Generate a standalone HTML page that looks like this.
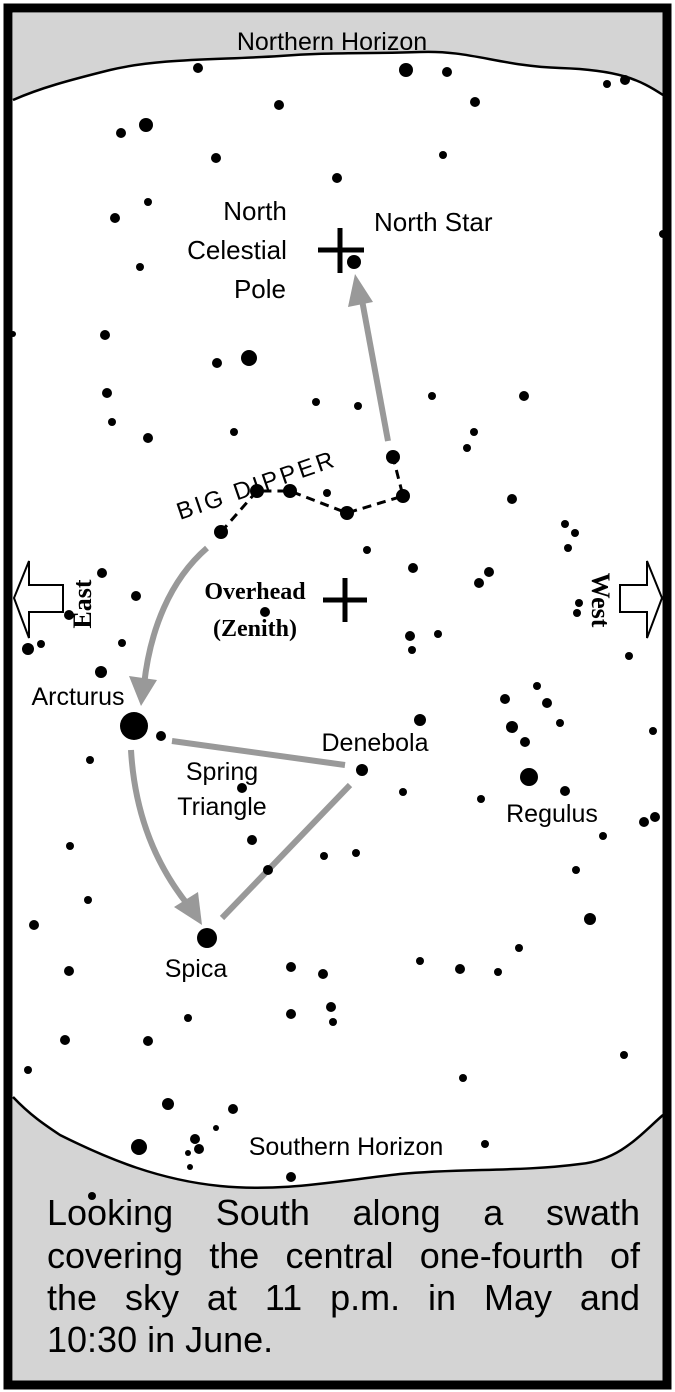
<!DOCTYPE html>
<html><head><meta charset="utf-8"><style>
html,body{margin:0;padding:0;background:#fff}
svg{display:block}
.cap{position:absolute;left:47px;width:593px;font-family:"Liberation Sans",sans-serif;font-size:36px;line-height:42px;color:#000;text-align:justify;text-align-last:justify;white-space:nowrap;transform-origin:left top}
.cap.last{text-align-last:left}
</style></head><body>
<div style="position:relative;width:675px;height:1392px">
<svg width="675" height="1392" viewBox="0 0 675 1392" xmlns="http://www.w3.org/2000/svg">
<rect x="0" y="0" width="675" height="1392" fill="#fff"/>
<path d="M13,13 L663,13 L663,95 C640,80 620,70 560,68 C500,66 470,50 420,52 C360,54 330,52 280,56 C220,60 160,58 110,70 C70,80 40,88 13,100 Z" fill="#d4d4d4"/>
<path d="M663,95 C640,80 620,70 560,68 C500,66 470,50 420,52 C360,54 330,52 280,56 C220,60 160,58 110,70 C70,80 40,88 13,100" fill="none" stroke="#000" stroke-width="2.5"/>
<path d="M13,1097 C30,1115 45,1125 60,1135 C110,1160 160,1180 220,1186 C280,1192 330,1182 400,1174 C460,1168 520,1172 580,1164 C620,1160 640,1135 663,1115 L663,1385 L13,1385 Z" fill="#d4d4d4"/>
<path d="M13,1097 C30,1115 45,1125 60,1135 C110,1160 160,1180 220,1186 C280,1192 330,1182 400,1174 C460,1168 520,1172 580,1164 C620,1160 640,1135 663,1115" fill="none" stroke="#000" stroke-width="2.5"/>
<rect x="8" y="8" width="659" height="1377" fill="none" stroke="#000" stroke-width="9"/>

<g stroke="#999" stroke-width="6" fill="none">
<line x1="388" y1="441" x2="362" y2="300"/>
<path d="M207,548 C170,580 150,630 144,685"/>
<path d="M131,750 C135,820 160,870 188,905"/>
<line x1="172" y1="741" x2="345" y2="765"/>
<line x1="350" y1="785" x2="222" y2="918"/>
</g>
<g fill="#999">
<polygon points="355,274 348,307 373,302"/>
<polygon points="141,706 129,676 157,680"/>
<polygon points="202,925 174,907 198,892"/>
</g>

<g stroke="#000" stroke-width="3" stroke-dasharray="9,6" fill="none">
<polyline points="221,532 257,491 290,491 347,513 403,496 393,457"/>
</g>

<g fill="#000">
<circle cx="198" cy="68" r="5"/><circle cx="406" cy="70" r="7"/><circle cx="447" cy="72" r="5"/>
<circle cx="607" cy="84" r="4"/><circle cx="625" cy="80" r="5"/><circle cx="279" cy="105" r="5"/>
<circle cx="475" cy="102" r="5"/><circle cx="146" cy="125" r="7"/><circle cx="121" cy="133" r="5"/>
<circle cx="216" cy="158" r="5"/><circle cx="443" cy="155" r="4"/><circle cx="337" cy="178" r="5"/>
<circle cx="148" cy="202" r="4"/><circle cx="115" cy="218" r="5"/><circle cx="663" cy="234" r="4"/>
<circle cx="140" cy="267" r="4"/><circle cx="354" cy="262" r="7"/><circle cx="13" cy="334" r="3"/>
<circle cx="105" cy="335" r="5"/><circle cx="249" cy="358" r="8"/><circle cx="217" cy="363" r="5"/>
<circle cx="107" cy="393" r="5"/><circle cx="316" cy="402" r="4"/><circle cx="358" cy="406" r="4"/>
<circle cx="432" cy="396" r="4"/><circle cx="524" cy="396" r="5"/><circle cx="112" cy="422" r="4"/>
<circle cx="148" cy="438" r="5"/><circle cx="234" cy="432" r="4"/><circle cx="474" cy="432" r="4"/>
<circle cx="467" cy="448" r="4"/>
<circle cx="393" cy="457" r="7"/><circle cx="403" cy="496" r="7"/><circle cx="347" cy="513" r="7"/>
<circle cx="290" cy="491" r="7"/><circle cx="257" cy="491" r="7"/><circle cx="221" cy="532" r="7"/>
<circle cx="327" cy="493" r="4"/>
<circle cx="512" cy="499" r="5"/><circle cx="565" cy="524" r="4"/><circle cx="575" cy="533" r="4"/>
<circle cx="568" cy="548" r="4"/><circle cx="367" cy="550" r="4"/><circle cx="413" cy="568" r="5"/>
<circle cx="489" cy="572" r="5"/><circle cx="479" cy="583" r="5"/><circle cx="136" cy="596" r="5"/>
<circle cx="102" cy="573" r="5"/><circle cx="69" cy="615" r="5"/>
<circle cx="265" cy="612" r="5"/><circle cx="410" cy="636" r="5"/><circle cx="438" cy="634" r="4"/>
<circle cx="412" cy="650" r="4"/><circle cx="579" cy="603" r="4"/><circle cx="577" cy="613" r="4"/>
<circle cx="28" cy="649" r="6"/><circle cx="41" cy="644" r="4"/><circle cx="122" cy="643" r="4"/>
<circle cx="101" cy="672" r="6"/><circle cx="629" cy="656" r="4"/><circle cx="505" cy="699" r="5"/>
<circle cx="537" cy="686" r="4"/><circle cx="547" cy="703" r="5"/><circle cx="512" cy="727" r="6"/>
<circle cx="525" cy="742" r="5"/><circle cx="560" cy="723" r="4"/><circle cx="420" cy="720" r="6"/>
<circle cx="653" cy="731" r="4"/><circle cx="134" cy="726" r="14"/><circle cx="161" cy="736" r="5"/>
<circle cx="90" cy="760" r="4"/><circle cx="362" cy="770" r="6"/><circle cx="529" cy="777" r="9"/>
<circle cx="565" cy="791" r="5"/><circle cx="242" cy="788" r="5"/><circle cx="403" cy="792" r="4"/>
<circle cx="481" cy="799" r="4"/><circle cx="644" cy="822" r="5"/><circle cx="655" cy="817" r="5"/>
<circle cx="252" cy="840" r="5"/><circle cx="603" cy="836" r="4"/><circle cx="324" cy="856" r="4"/>
<circle cx="356" cy="853" r="4"/><circle cx="70" cy="846" r="4"/><circle cx="268" cy="870" r="5"/>
<circle cx="576" cy="870" r="4"/><circle cx="34" cy="925" r="5"/><circle cx="88" cy="900" r="4"/>
<circle cx="590" cy="919" r="6"/><circle cx="207" cy="938" r="10"/><circle cx="519" cy="948" r="4"/>
<circle cx="420" cy="961" r="4"/><circle cx="460" cy="969" r="5"/><circle cx="498" cy="972" r="4"/>
<circle cx="291" cy="967" r="5"/><circle cx="323" cy="974" r="5"/><circle cx="69" cy="971" r="5"/>
<circle cx="331" cy="1007" r="5"/><circle cx="333" cy="1022" r="4"/><circle cx="291" cy="1014" r="5"/>
<circle cx="188" cy="1018" r="4"/><circle cx="65" cy="1040" r="5"/><circle cx="148" cy="1041" r="5"/>
<circle cx="624" cy="1055" r="4"/><circle cx="28" cy="1070" r="4"/><circle cx="463" cy="1078" r="4"/>
<circle cx="168" cy="1104" r="6"/><circle cx="233" cy="1109" r="5"/><circle cx="195" cy="1139" r="5"/>
<circle cx="139" cy="1147" r="8"/><circle cx="199" cy="1149" r="5"/><circle cx="188" cy="1153" r="3"/>
<circle cx="190" cy="1167" r="3"/><circle cx="216" cy="1128" r="3"/>
<circle cx="485" cy="1144" r="4"/><circle cx="291" cy="1177" r="5"/><circle cx="92" cy="1196" r="4"/>
</g>

<g stroke="#000" stroke-width="5">
<line x1="318" y1="250" x2="364" y2="250"/><line x1="340" y1="228" x2="340" y2="273"/>
<line x1="323" y1="600" x2="367" y2="600"/><line x1="345" y1="578" x2="345" y2="622"/>
</g>

<polygon points="14,598 29,561 29,585 63,585 63,612 29,612 29,638" fill="#fff" stroke="#000" stroke-width="2"/>
<polygon points="662,598 647,561 647,585 620,585 620,612 647,612 647,638" fill="#fff" stroke="#000" stroke-width="2"/>

<g font-family="Liberation Sans, sans-serif" fill="#000">
<text x="332" y="50" font-size="25" text-anchor="middle">Northern Horizon</text>
<text x="255" y="220" font-size="26" text-anchor="middle">North</text>
<text x="237" y="259" font-size="26" text-anchor="middle">Celestial</text>
<text x="260" y="298" font-size="26" text-anchor="middle">Pole</text>
<text x="374" y="231" font-size="26">North Star</text>
<text x="0" y="0" font-size="24" letter-spacing="3" transform="translate(180,520) rotate(-19)">BIG DIPPER</text>
<text x="78" y="705" font-size="25" text-anchor="middle">Arcturus</text>
<text x="375" y="751" font-size="25" text-anchor="middle">Denebola</text>
<text x="222" y="780" font-size="25" text-anchor="middle">Spring</text>
<text x="222" y="815" font-size="25" text-anchor="middle">Triangle</text>
<text x="552" y="822" font-size="25" text-anchor="middle">Regulus</text>
<text x="196" y="977" font-size="25" text-anchor="middle">Spica</text>
<text x="346" y="1155" font-size="25" text-anchor="middle">Southern Horizon</text>
</g>
<g font-family="Liberation Serif, serif" font-weight="bold" fill="#000">
<text x="255" y="599" font-size="24" text-anchor="middle">Overhead</text>
<text x="255" y="636" font-size="24" text-anchor="middle">(Zenith)</text>
<text x="0" y="0" font-size="26" text-anchor="middle" transform="translate(91,604) rotate(-90)">East</text>
<text x="0" y="0" font-size="26" text-anchor="middle" transform="translate(592,600) rotate(90)">West</text>
</g>
</svg>
<div class="cap" style="top:1192px">Looking South along a swath</div>
<div class="cap" style="top:1235px">covering the central one-fourth of</div>
<div class="cap" style="top:1277px">the sky at 11 p.m. in May and</div>
<div class="cap last" style="top:1319px">10:30 in June.</div>
</div>
</body></html>
